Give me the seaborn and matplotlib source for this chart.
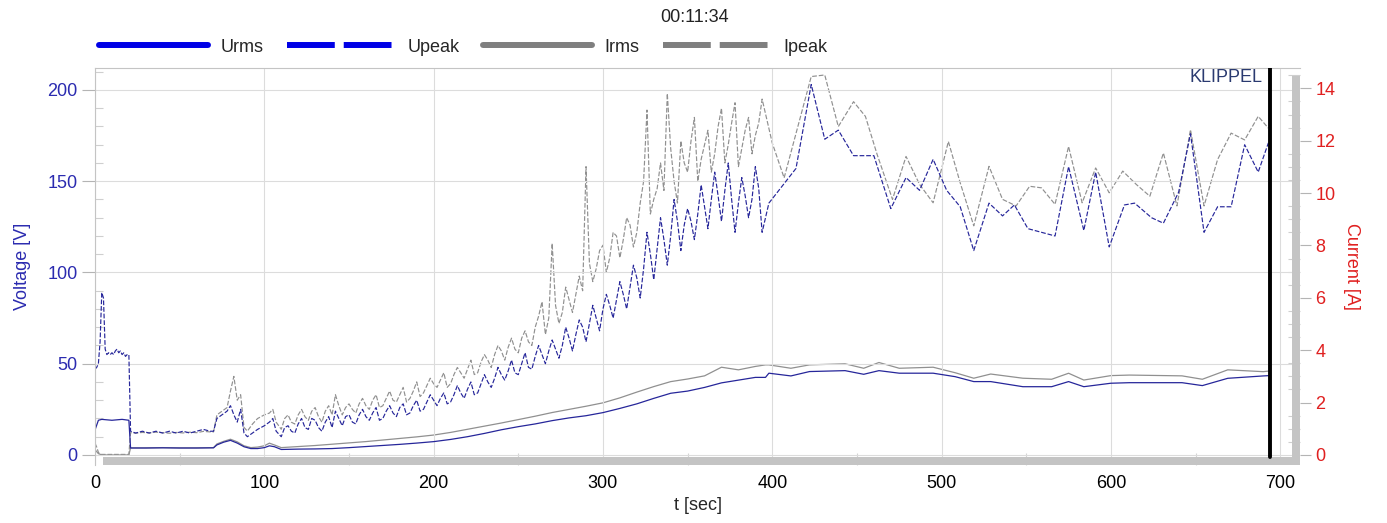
import matplotlib
matplotlib.use("Agg")
import matplotlib.pyplot as plt
import seaborn as sns
import pandas as pd
from matplotlib.lines import Line2D
from matplotlib.patches import Rectangle
from matplotlib.ticker import MultipleLocator

# ---------------- data ----------------
title_text = "00:11:34"
legend_labels = ["Urms", "Upeak", "Irms", "Ipeak"]
cursor_t = 694
x_ticks = [0, 100, 200, 300, 400, 500, 600, 700]
v_ticks = [0, 50, 100, 150, 200]
i_ticks = [0, 2, 4, 6, 8, 10, 12, 14]

# dense peak sampling (shared by Upeak / Ipeak)
t_peak_early = [0, 1, 2, 3, 4, 5, 6, 7, 8, 9, 10, 11, 12, 13, 14, 15, 16, 17, 18, 19, 20, 21,
                24, 28, 32, 36, 40, 44, 48, 52, 56, 60, 64, 68,
                70, 72, 75, 78, 80, 82, 84, 86, 88, 90, 93, 96, 100, 103, 105, 107]
t_peak_dense = list(range(110, 395, 4))
t_peak_mid = list(range(112, 395, 4))

u_peak_early = [47, 48, 50, 62, 89, 86, 58, 55, 56, 55, 56, 55, 57, 58, 56, 57, 55, 56, 54, 55, 55, 13,
                12, 13, 12, 13, 12, 13, 12, 13, 12, 13, 14, 13,
                13, 20, 22, 24, 27, 22, 18, 25, 12, 10, 12, 14, 16, 18, 20, 13]
u_peak_dense = [10, 16, 12, 20, 14, 19, 13, 21, 24, 16,
                22, 17, 25, 19, 26, 20, 27, 21, 28, 23,
                30, 25, 33, 27, 34, 29, 38, 31, 40, 34,
                44, 37, 48, 41, 52, 44, 56, 47, 60, 50,
                63, 53, 70, 57, 74, 62, 82, 68, 88, 75,
                95, 80, 104, 86, 122, 96, 130, 104, 140, 112,
                135, 118, 148, 124, 155, 128, 160, 122, 152, 130,
                158, 122]
u_peak_mid = [15, 13, 17, 15, 20, 15, 18, 15, 20, 21,
              18, 22, 21, 23, 19, 24, 23, 26, 22, 27,
              24, 29, 30, 31, 28, 33, 34, 36, 33, 39,
              40, 42, 44, 46, 45, 50, 48, 54, 55, 57,
              58, 60, 64, 66, 70, 72, 75, 80, 82, 85,
              88, 92, 97, 102, 110, 113, 118, 120, 128, 126,
              128, 132, 136, 140, 142, 145, 140, 138, 142, 140,
              146]

i_peak_early = [0.45, 0.30, 0.10, 0.02, 0.02, 0.02, 0.02, 0.02, 0.02, 0.02, 0.02, 0.02, 0.02, 0.02,
                0.02, 0.02, 0.02, 0.02, 0.02, 0.02, 0.02, 0.85,
                0.83, 0.86, 0.84, 0.87, 0.85, 0.83, 0.86, 0.84, 0.87, 0.85, 0.90, 0.88,
                0.88, 1.53, 1.67, 1.81, 2.44, 3.00, 2.09, 2.30, 1.05, 0.91, 1.18, 1.39, 1.53, 1.60, 1.74, 1.25]
i_peak_dense = [0.98, 1.53, 1.18, 1.74, 1.32, 1.81, 1.25, 1.88, 2.30, 1.53,
                1.95, 1.60, 2.16, 1.74, 2.30, 1.88, 2.44, 2.02, 2.58, 2.16,
                2.79, 2.37, 2.93, 2.58, 3.14, 2.72, 3.34, 2.93, 3.62, 3.14,
                3.83, 3.34, 4.18, 3.62, 4.46, 3.90, 4.74, 4.18, 5.30, 4.60,
                8.08, 5.02, 6.41, 5.44, 6.83, 11.01, 6.62, 7.80, 6.97, 8.50,
                7.53, 9.06, 7.94, 9.62, 13.17, 9.76, 11.15, 13.80, 10.45, 11.99,
                10.80, 12.89, 11.29, 12.40, 11.50, 13.24, 11.85, 13.45, 11.71, 12.89,
                12.20, 13.59]
i_peak_mid = [1.39, 1.25, 1.53, 1.46, 1.67, 1.46, 1.67, 1.53, 1.88, 1.81,
              1.74, 1.95, 1.88, 2.09, 1.81, 2.16, 2.09, 2.30, 2.02, 2.44,
              2.23, 2.65, 2.72, 2.86, 2.58, 3.07, 3.14, 3.28, 3.07, 3.55,
              3.62, 3.83, 3.97, 4.11, 4.04, 4.46, 4.32, 4.88, 5.85, 5.23,
              5.71, 5.44, 5.92, 6.13, 6.27, 7.32, 7.11, 8.01, 7.53, 8.36,
              8.22, 8.78, 8.50, 10.45, 9.20, 10.17, 10.10, 11.71, 9.62, 11.15,
              11.99, 10.45, 11.85, 10.80, 12.54, 11.15, 12.68, 11.01, 12.40, 11.50,
              12.68]

# sparse part after ~400 s
t_upeak_late = [398, 414, 423, 431, 439, 448, 460, 470, 479, 487, 495, 503, 511, 519, 528, 536, 543, 551,
                567, 575, 584, 591, 599, 608, 614, 624, 631, 640, 647, 655, 663, 671, 679, 687, 693]
u_peak_late = [138, 157, 203, 173, 178, 164, 164, 135, 152, 145, 162, 145, 136, 112, 138, 131, 137, 124,
               120, 158, 123, 155, 114, 137, 138, 130, 127, 144, 176, 122, 136, 136, 170, 155, 171]

t_ipeak_late = [400, 407, 423, 431, 439, 448, 455, 462, 471, 479, 487, 495, 504, 511, 519, 528, 536, 544,
                552, 559, 567, 575, 583, 591, 599, 607, 615, 623, 631, 639, 647, 655, 663, 671, 679, 687, 693]
i_peak_late = [11.91, 10.58, 14.45, 14.51, 12.54, 13.49, 12.93, 11.46, 9.76, 11.40, 10.33, 9.63, 11.97,
               10.39, 8.75, 11.02, 9.76, 9.51, 10.26, 10.20, 9.57, 11.78, 9.63, 10.96, 10.01, 10.84,
               10.33, 9.88, 11.53, 9.51, 12.42, 9.51, 11.28, 12.29, 12.03, 12.93, 12.48]

# rms values
t_rms = [0, 2, 4, 10, 16, 20, 21, 30, 40, 50, 60, 70, 72, 76, 80, 84, 88, 92, 96, 100, 103, 106, 110,
         120, 130, 140, 150, 160, 170, 180, 190, 200, 210, 220, 230, 240, 250, 260, 270, 280, 290,
         300, 310, 320, 330, 340, 350, 360, 370, 380, 390, 396,
         398, 411, 422, 443, 454, 463, 475, 495, 508, 519, 529, 548, 565, 575, 584, 600, 611, 642,
         654, 669, 690, 694]
u_rms = [13.7, 19.0, 19.5, 19.0, 19.5, 19.0, 3.8, 3.8, 3.9, 3.8, 3.8, 3.9,
         5.5, 7.0, 8.0, 6.5, 4.5, 3.5, 3.5, 4.0, 5.0, 4.5, 3.0,
         3.2, 3.3, 3.5, 4.0, 4.6, 5.2, 5.8, 6.5, 7.3, 8.5, 10.0, 11.8, 13.8, 15.5, 17.0, 18.8,
         20.3, 21.5, 23.2, 25.5, 28.0, 31.0, 33.8, 35.0, 37.0, 39.5, 41.0, 42.5, 42.5,
         44.8, 43.3, 45.7, 46.2, 44.2, 46.2, 44.8, 44.8, 42.9, 40.2, 40.2, 37.4, 37.4, 40.2,
         37.4, 39.3, 39.6, 39.6, 38.0, 42.0, 43.3, 43.5]
i_rms = [0.20, 0.05, 0.0, 0.0, 0.0, 0.0, 0.27, 0.27, 0.28, 0.27, 0.27, 0.28,
         0.42, 0.52, 0.60, 0.50, 0.35, 0.28, 0.30, 0.35, 0.45, 0.38, 0.28,
         0.32, 0.36, 0.41, 0.46, 0.51, 0.57, 0.63, 0.69, 0.76, 0.86, 0.98, 1.10, 1.22, 1.35,
         1.48, 1.62, 1.74, 1.86, 1.99, 2.18, 2.40, 2.61, 2.80, 2.90, 3.02, 3.35, 3.25, 3.38, 3.44,
         3.44, 3.31, 3.44, 3.48, 3.31, 3.53, 3.31, 3.35, 3.14, 2.93, 3.09, 2.93, 2.89, 3.12,
         2.86, 3.03, 3.05, 3.02, 2.89, 3.25, 3.18, 3.21]

# ---------------- assemble ----------------
upeak_df = pd.DataFrame({"t": t_peak_early + t_peak_dense + t_peak_mid + t_upeak_late,
                         "v": u_peak_early + u_peak_dense + u_peak_mid + u_peak_late}
                        ).sort_values("t", kind="stable")
ipeak_df = pd.DataFrame({"t": t_peak_early + t_peak_dense + t_peak_mid + t_ipeak_late,
                         "i": i_peak_early + i_peak_dense + i_peak_mid + i_peak_late}
                        ).sort_values("t", kind="stable")
rms_df = pd.DataFrame({"t": t_rms, "u": u_rms, "i": i_rms})

# ---------------- style ----------------
sns.set_style("white")
plt.rcParams["font.family"] = ["Liberation Sans", "DejaVu Sans"]

U_COL = "#26269a"
I_COL = "#909090"
LEG_BLUE = "#0000e6"
LEG_GRAY = "#7f7f7f"
TICK_BLUE = "#2b2bb0"
TICK_RED = "#e02020"

fig = plt.figure(figsize=(13.87, 5.23), dpi=100)
ax = fig.add_axes([0.0685, 0.111, 0.8688, 0.759])
ax2 = ax.twinx()

# current on ax2, voltage on ax (drawn on top)
sns.lineplot(data=rms_df, x="t", y="i", ax=ax2, color=I_COL, lw=0.9, estimator=None, sort=False)
sns.lineplot(data=ipeak_df, x="t", y="i", ax=ax2, color=I_COL, lw=0.85, estimator=None, sort=False,
             linestyle=(0, (4, 1.6)))
sns.lineplot(data=rms_df, x="t", y="u", ax=ax, color=U_COL, lw=0.9, estimator=None, sort=False)
sns.lineplot(data=upeak_df, x="t", y="v", ax=ax, color=U_COL, lw=0.85, estimator=None, sort=False,
             linestyle=(0, (4, 1.6)))

ax.set_zorder(ax2.get_zorder() + 1)
ax.patch.set_visible(False)

ax.set_xlim(0, 711.7)
ax.set_ylim(-5.48, 212.05)
ax2.set_ylim(-0.382, 14.777)

ax.set_xticks(x_ticks)
ax.set_yticks(v_ticks)
ax2.set_yticks(i_ticks)
ax.xaxis.set_minor_locator(MultipleLocator(50))
ax.yaxis.set_minor_locator(MultipleLocator(10))
ax2.yaxis.set_minor_locator(MultipleLocator(0.5))

ax.grid(True, which="major", color="#dcdcdc", lw=0.8)
ax2.grid(False)

ax.tick_params(axis="y", which="major", direction="out", length=9.5, width=0.8, color="#b4b4b4",
               labelcolor=TICK_BLUE, labelsize=13, pad=3, left=True)
ax.tick_params(axis="y", which="minor", direction="in", length=6, width=0.8, color="#cfcfcf", left=True)
ax.tick_params(axis="x", which="major", length=0, pad=7, labelsize=13, labelcolor="black")
ax.tick_params(axis="x", which="minor", direction="in", length=9, width=0.8, color="#d4d4d4", bottom=True)
ax2.tick_params(axis="y", which="major", direction="out", length=8, width=0.8, color="#b4b4b4",
                labelcolor=TICK_RED, labelsize=13, pad=3, right=True)
ax2.tick_params(axis="y", which="minor", direction="in", length=9, width=0.8, color="#cfcfcf", right=True)

for s in ["right", "bottom"]:
    ax.spines[s].set_visible(False)
for s in ["top", "left"]:
    ax.spines[s].set_color("#c4c4c4")
    ax.spines[s].set_linewidth(0.8)
for s in ax2.spines.values():
    s.set_visible(False)

ax.set_xlabel("t [sec]", fontsize=13, labelpad=4)
ax.set_ylabel("Voltage [V]", fontsize=13, color=TICK_BLUE, labelpad=12)
ax2.set_ylabel("Current [A]", fontsize=13, color=TICK_RED, rotation=270, labelpad=18)

# scrollbar-like grey bars
ax.add_patch(Rectangle((0.0066, 0.0), 0.9934, 0.02, transform=ax.transAxes, color="#c4c4c4",
                       zorder=5, clip_on=False, lw=0))
ax.add_patch(Rectangle((0.9935, 0.0), 0.0065, 0.98, transform=ax.transAxes, color="#c4c4c4",
                       zorder=5, clip_on=False, lw=0))

# cursor
ax.axvline(cursor_t, ymin=0.02, ymax=1.0, color="black", lw=2.8, zorder=6)
ax.text(0.9685, 0.975, "KLIPPEL", transform=ax.transAxes, ha="right", va="center",
        fontsize=13, color="#2a3a70", zorder=7)

fig.text(0.501, 0.966, title_text, ha="center", va="center", fontsize=13, color="#222222")

handles = [Line2D([], [], color=LEG_BLUE, lw=4.3),
           Line2D([], [], color=LEG_BLUE, lw=4.3, linestyle=(0, (8.0, 1.5))),
           Line2D([], [], color=LEG_GRAY, lw=4.3),
           Line2D([], [], color=LEG_GRAY, lw=4.3, linestyle=(0, (8.0, 1.5)))]
fig.legend(handles, legend_labels, loc="center left", bbox_to_anchor=(0.0715, 0.910), ncol=4,
           frameon=False, handlelength=6.0, handletextpad=0.7, columnspacing=1.3, fontsize=13,
           borderaxespad=0, borderpad=0)

fig.savefig("out.png", dpi=100)
